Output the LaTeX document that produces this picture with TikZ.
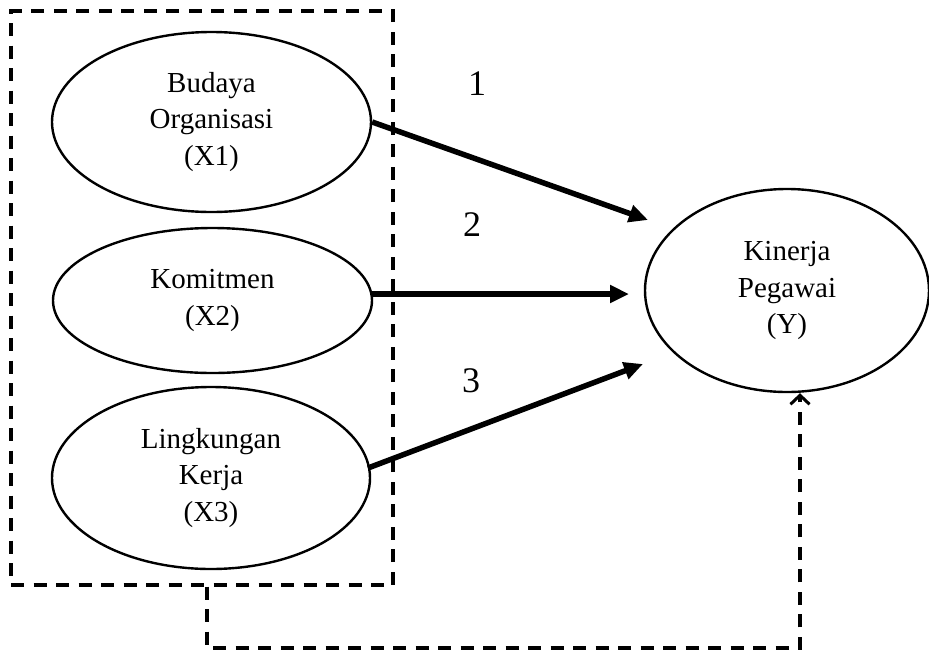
\documentclass[tikz,border=0pt]{standalone}
\usepackage{fontspec}
\setmainfont{Liberation Serif}
\usetikzlibrary{shapes.geometric,arrows.meta,calc}
\begin{document}
\begin{tikzpicture}[x=1pt,y=-1pt,
  var/.style={draw,line width=2.4pt,ellipse,inner sep=0pt,align=center,
    font=\fontsize{29}{36.5}\selectfont},
  path/.style={line width=5.5pt,-{Triangle[length=19pt,width=17pt]}},
  num/.style={inner sep=0pt,font=\fontsize{36}{40}\selectfont},
  dbox/.style={draw,line width=3.2pt,dash pattern=on 13pt off 9.5pt,rectangle,inner sep=0pt},
  dconn/.style={line width=3.2pt,dash pattern=on 13pt off 9.5pt,
    -{Straight Barb[length=9pt,width=19pt,line width=3pt]}}]
\useasboundingbox (0,0) rectangle (929,657);
\node[dbox,minimum width=382pt,minimum height=574pt] (box) at (202,298) {};
\node[var,minimum width=319pt,minimum height=180pt] (x1) at (211.5,122) {Budaya\\Organisasi\\(X1)};
\node[var,minimum width=319pt,minimum height=145pt] (x2) at (212.5,300.5) {Komitmen\\(X2)};
\node[var,minimum width=318pt,minimum height=182pt] (x3) at (211,478) {Lingkungan\\Kerja\\(X3)};
\node[var,minimum width=284pt,minimum height=203pt] (y) at (787,290.5) {Kinerja\\Pegawai\\(Y)};
\coordinate (t1) at (648,220);
\coordinate (t2) at (629,294);
\coordinate (t3) at (643,364);
\coordinate (s2) at (372,294);
\coordinate (s3) at (368,468);
\draw[path] (x1.east) -- (t1);
\draw[path] (s2) -- (t2);
\draw[path] (s3) -- (t3);
\node[num] (n1) at (477,84) {1};
\node[num] (n2) at (472,225) {2};
\node[num] (n3) at (471,381) {3};
\coordinate (c1) at (207,648);
\coordinate (c2) at (800,648);
\draw[dconn] (box.south -| c1) -- (c1) -- (c2) -- (y.south -| c2);
\end{tikzpicture}
\end{document}
